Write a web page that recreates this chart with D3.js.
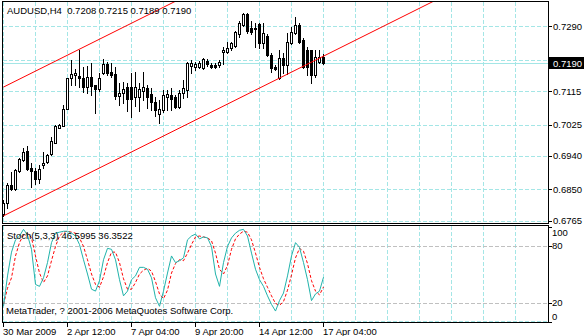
<!DOCTYPE html>
<html>
<head>
<meta charset="utf-8">
<script src="https://cdn.jsdelivr.net/npm/d3@7"></script>
<style>
  body { margin: 0; background: #fff; }
  svg { display: block; font-family: "Liberation Sans", Arial, sans-serif; font-size: 9.5px; }
  .grid { stroke: #a4e6e6; stroke-width: 1; stroke-dasharray: 4,2; shape-rendering: crispEdges; }
  .level { stroke: #c0c0c0; stroke-width: 1; stroke-dasharray: 4,2; shape-rendering: crispEdges; }
  .frame { fill: none; stroke: #000; stroke-width: 1; shape-rendering: crispEdges; }
  .tick { stroke: #000; shape-rendering: crispEdges; }
</style>
</head>
<body>
<div id="chart"></div>
<script>
// chart values
const symbolTitle = "AUDUSD,H4";
const lastQuote = ["0.7208", "0.7215", "0.7189", "0.7190"];

const barOpen = [0.6784,0.6814,0.6862,0.6852,0.6900,0.6930,0.6954,0.6908,0.6900,0.6878,
  0.6916,0.6924,0.6946,0.6975,0.7016,0.7021,0.7067,0.7150,0.7158,0.7156,
  0.7150,0.7126,0.7153,0.7131,0.7121,0.7164,0.7188,0.7166,0.7161,0.7102,
  0.7110,0.7126,0.7126,0.7099,0.7099,0.7115,0.7123,0.7107,0.7086,0.7053,
  0.7064,0.7099,0.7104,0.7099,0.7072,0.7110,0.7118,0.7182,0.7180,0.7180,
  0.7177,0.7196,0.7185,0.7186,0.7185,0.7220,0.7220,0.7231,0.7236,0.7268,
  0.7293,0.7322,0.7285,0.7285,0.7295,0.7244,0.7263,0.7212,0.7180,0.7150,
  0.7204,0.7185,0.7244,0.7271,0.7293,0.7252,0.7225,0.7225,0.7158,0.7193,0.7208];
const barHigh = [0.6822,0.6868,0.6897,0.6905,0.6935,0.6962,0.6967,0.6921,0.6908,0.6916,
  0.6951,0.6946,0.6991,0.7024,0.7026,0.7077,0.7150,0.7199,0.7174,0.7225,
  0.7180,0.7182,0.7190,0.7131,0.7164,0.7201,0.7193,0.7190,0.7180,0.7137,
  0.7139,0.7137,0.7164,0.7166,0.7137,0.7166,0.7131,0.7123,0.7099,0.7091,
  0.7118,0.7118,0.7123,0.7104,0.7118,0.7145,0.7193,0.7199,0.7193,0.7196,
  0.7204,0.7201,0.7190,0.7191,0.7199,0.7233,0.7247,0.7247,0.7277,0.7303,
  0.7325,0.7325,0.7303,0.7298,0.7298,0.7298,0.7268,0.7217,0.7185,0.7225,
  0.7217,0.7271,0.7288,0.7314,0.7298,0.7258,0.7233,0.7225,0.7225,0.7225,0.7215];
const barLow = [0.6779,0.6800,0.6849,0.6849,0.6897,0.6927,0.6903,0.6857,0.6865,0.6868,
  0.6908,0.6921,0.6943,0.6975,0.7016,0.7021,0.7067,0.7131,0.7131,0.7126,
  0.7112,0.7110,0.7104,0.7056,0.7115,0.7161,0.7158,0.7153,0.7094,0.7077,
  0.7083,0.7061,0.7045,0.7075,0.7061,0.7091,0.7069,0.7064,0.7048,0.7029,
  0.7059,0.7064,0.7064,0.7069,0.7069,0.7096,0.7099,0.7164,0.7172,0.7177,
  0.7174,0.7182,0.7177,0.7176,0.7180,0.7188,0.7217,0.7225,0.7233,0.7260,
  0.7290,0.7271,0.7268,0.7233,0.7231,0.7231,0.7209,0.7166,0.7172,0.7147,
  0.7164,0.7161,0.7242,0.7268,0.7244,0.7177,0.7158,0.7137,0.7153,0.7190,0.7189];
const barClose = [0.6814,0.6862,0.6852,0.6903,0.6932,0.6951,0.6905,0.6900,0.6878,0.6905,
  0.6921,0.6943,0.6981,0.7021,0.7024,0.7067,0.7150,0.7161,0.7164,0.7150,
  0.7126,0.7153,0.7129,0.7121,0.7150,0.7188,0.7164,0.7158,0.7102,0.7110,
  0.7121,0.7094,0.7094,0.7126,0.7121,0.7126,0.7099,0.7086,0.7064,0.7067,
  0.7104,0.7107,0.7094,0.7072,0.7110,0.7123,0.7190,0.7190,0.7188,0.7190,
  0.7201,0.7188,0.7180,0.7181,0.7193,0.7225,0.7231,0.7244,0.7274,0.7298,
  0.7322,0.7277,0.7274,0.7282,0.7244,0.7271,0.7212,0.7177,0.7174,0.7204,
  0.7185,0.7247,0.7274,0.7293,0.7247,0.7180,0.7180,0.7158,0.7207,0.7207,0.7190];

const priceTicks = [0.7290, 0.7200, 0.7115, 0.7025, 0.6940, 0.6850, 0.6765];
const bidPrice = 0.7190;

// equidistant channel: base line through two lows, parallel through one high
const channelBars = [0, 69];
const channelPrices = [0.6779, 0.7150];
const channelUpperBar = 19;
const channelUpperPrice = 0.7228;

const stochTitle = "Stoch(5,3,3)";
const stochLast = ["46.5995", "36.3522"];
const stochMain = [16,48,73,86,90,97,91,76,39,37,46,62,83,93,94,95,95,93,90,81,
  65,50,34,32,43,65,77,76,65,44,27,32,44,48,57,57,55,46,25,16,
  32,51,69,62,64,67,86,90,92,87,89,88,79,50,37,62,79,88,93,96,
  97,90,72,55,44,37,27,18,11,22,30,48,69,83,78,62,44,22,29,32,46.6];
const stochSignal = [18,35,46,69,83,91,93,88,69,51,41,48,64,79,90,94,95,94,93,88,
  79,65,50,39,36,47,62,73,73,62,45,34,34,41,50,54,56,53,42,29,
  24,33,51,61,65,64,72,81,89,90,89,88,85,72,55,50,59,76,87,92,
  95,94,86,72,57,45,36,27,19,17,21,33,49,67,77,74,61,43,32,28,36.35];
const stochLevels = [20, 80];
const stochTicks = [100, 80, 20, 0];

const timeTickBars = [0, 16, 32, 48, 64, 80];
const timeTickLabels = ["30 Mar 2009", "2 Apr 12:00", "7 Apr 04:00", "9 Apr 20:00", "14 Apr 12:00", "17 Apr 04:00"];
const copyright = "MetaTrader, ? 2001-2006 MetaQuotes Software Corp.";

const W = 584, H = 336;
const left = 2.5, right = 548.5;
const mainTop = 1.5, mainBottom = 223.5;
const stochTop = 225.5, stochBottom = 322.5;
const barStep = 4, gridEvery = 8;

const svg = d3.select("#chart").append("svg").attr("width", W).attr("height", H);

const x = d3.scaleLinear().domain([0, 136]).range([3.5, 3.5 + 136 * barStep]);
const y = d3.scaleLinear().domain([0.6757, 0.7355]).range([224, 2]);
const sy = d3.scaleLinear().domain([0, 100]).range([321.5, 226.5]);
const py = v => Math.round(y(v)) + 0.5;

const defs = svg.append("defs");
defs.append("clipPath").attr("id", "clipMain").append("rect")
  .attr("x", left).attr("y", mainTop).attr("width", right - left).attr("height", mainBottom - mainTop);
defs.append("clipPath").attr("id", "clipStoch").append("rect")
  .attr("x", left).attr("y", stochTop).attr("width", right - left).attr("height", stochBottom - stochTop);

const gridBars = d3.range(0, 136, gridEvery);

// ---- main panel ----
const main = svg.append("g").attr("clip-path", "url(#clipMain)");
main.selectAll(".vgrid").data(gridBars).join("line").attr("class", "grid")
  .attr("x1", d => x(d)).attr("x2", d => x(d)).attr("y1", mainTop).attr("y2", mainBottom);
main.selectAll(".hgrid").data(priceTicks).join("line").attr("class", "grid")
  .attr("x1", left).attr("x2", right).attr("y1", py).attr("y2", py);
main.append("line").attr("x1", left).attr("x2", right).attr("y1", py(bidPrice)).attr("y2", py(bidPrice))
  .attr("stroke", "#a4e6e6").attr("shape-rendering", "crispEdges");

const bars = barOpen.map((o, i) => ({ i, o, h: barHigh[i], l: barLow[i], c: barClose[i] }));
const candle = main.selectAll(".candle").data(bars).join("g").attr("shape-rendering", "crispEdges");
candle.append("line").attr("stroke", "#000")
  .attr("x1", d => x(d.i)).attr("x2", d => x(d.i))
  .attr("y1", d => Math.round(y(d.h))).attr("y2", d => Math.round(y(d.l)) + 1);
candle.append("rect")
  .attr("x", d => x(d.i) - 1).attr("width", 2)
  .attr("y", d => py(Math.max(d.o, d.c)))
  .attr("height", d => Math.max(1, Math.round(y(Math.min(d.o, d.c))) - Math.round(y(Math.max(d.o, d.c)))))
  .attr("fill", d => d.c >= d.o ? "#fff" : "#000").attr("stroke", "#000");

svg.append("text").attr("x", 7).attr("y", 14).attr("xml:space", "preserve")
  .text(symbolTitle + "  " + lastQuote.join(" "));

const slope = (channelPrices[1] - channelPrices[0]) / (channelBars[1] - channelBars[0]);
const baseAt = b => channelPrices[0] + slope * (b - channelBars[0]);
const offset = channelUpperPrice - baseAt(channelUpperBar);
const rayEnd = 200;
[0, offset].forEach(off => {
  main.append("line").attr("stroke", "#ff0000").attr("stroke-width", 1)
    .attr("x1", x(channelBars[0])).attr("y1", y(baseAt(channelBars[0]) + off))
    .attr("x2", x(rayEnd)).attr("y2", y(baseAt(rayEnd) + off));
});

svg.append("rect").attr("class", "frame")
  .attr("x", left).attr("y", mainTop).attr("width", right - left).attr("height", mainBottom - mainTop);

const pAxis = svg.append("g");
pAxis.selectAll("line").data(priceTicks).join("line").attr("class", "tick")
  .attr("x1", right).attr("x2", right + 3).attr("y1", py).attr("y2", py);
pAxis.selectAll("text").data(priceTicks).join("text")
  .attr("x", 553).attr("y", d => y(d)).attr("dy", "0.36em")
  .text(d => d.toFixed(4));
pAxis.append("rect").attr("x", 549).attr("y", Math.round(y(bidPrice)) - 6)
  .attr("width", 35).attr("height", 12).attr("fill", "#000");
pAxis.append("text").attr("x", 553).attr("y", y(bidPrice)).attr("dy", "0.36em")
  .attr("fill", "#fff").text(bidPrice.toFixed(4));

// ---- stochastic panel ----
const stoch = svg.append("g").attr("clip-path", "url(#clipStoch)");
stoch.selectAll(".vgrid").data(gridBars).join("line").attr("class", "grid")
  .attr("x1", d => x(d)).attr("x2", d => x(d)).attr("y1", stochTop).attr("y2", stochBottom);
stoch.append("line").attr("class", "grid")
  .attr("x1", left).attr("x2", right).attr("y1", sy(0)).attr("y2", sy(0));
stoch.selectAll(".lvl").data(stochLevels).join("line").attr("class", "level")
  .attr("x1", left).attr("x2", right).attr("y1", d => Math.round(sy(d)) + 0.5).attr("y2", d => Math.round(sy(d)) + 0.5);

const stochLine = d3.line().x((d, i) => x(i)).y(d => sy(d));
stoch.append("path").attr("d", stochLine(stochSignal))
  .attr("fill", "none").attr("stroke", "#ff0000").attr("stroke-dasharray", "3,2");
stoch.append("path").attr("d", stochLine(stochMain))
  .attr("fill", "none").attr("stroke", "#20b2aa");

svg.append("text").attr("x", 7).attr("y", 239).attr("xml:space", "preserve")
  .text(stochTitle + " " + stochLast.join(" "));
svg.append("text").attr("x", 6).attr("y", 314).text(copyright);

svg.append("rect").attr("class", "frame")
  .attr("x", left).attr("y", stochTop).attr("width", right - left).attr("height", stochBottom - stochTop);

const sAxis = svg.append("g");
sAxis.selectAll("line").data(stochTicks).join("line").attr("class", "tick")
  .attr("x1", right).attr("x2", right + 3)
  .attr("y1", d => Math.round(sy(d)) + 0.5).attr("y2", d => Math.round(sy(d)) + 0.5);
sAxis.selectAll("text").data(stochTicks).join("text")
  .attr("x", 552).attr("dy", "0.36em")
  .attr("y", d => Math.min(stochBottom - 6, Math.max(stochTop + 7, sy(d))))
  .text(d => d);

// ---- time axis ----
const tAxis = svg.append("g");
tAxis.selectAll("line").data(timeTickBars).join("line").attr("class", "tick")
  .attr("x1", d => x(d) - 0.5).attr("x2", d => x(d) - 0.5).attr("y1", stochBottom).attr("y2", stochBottom + 4);
tAxis.selectAll("text").data(timeTickBars).join("text")
  .attr("x", d => x(d) - 0.5).attr("y", 335)
  .text((d, i) => timeTickLabels[i]);
</script>
</body>
</html>
